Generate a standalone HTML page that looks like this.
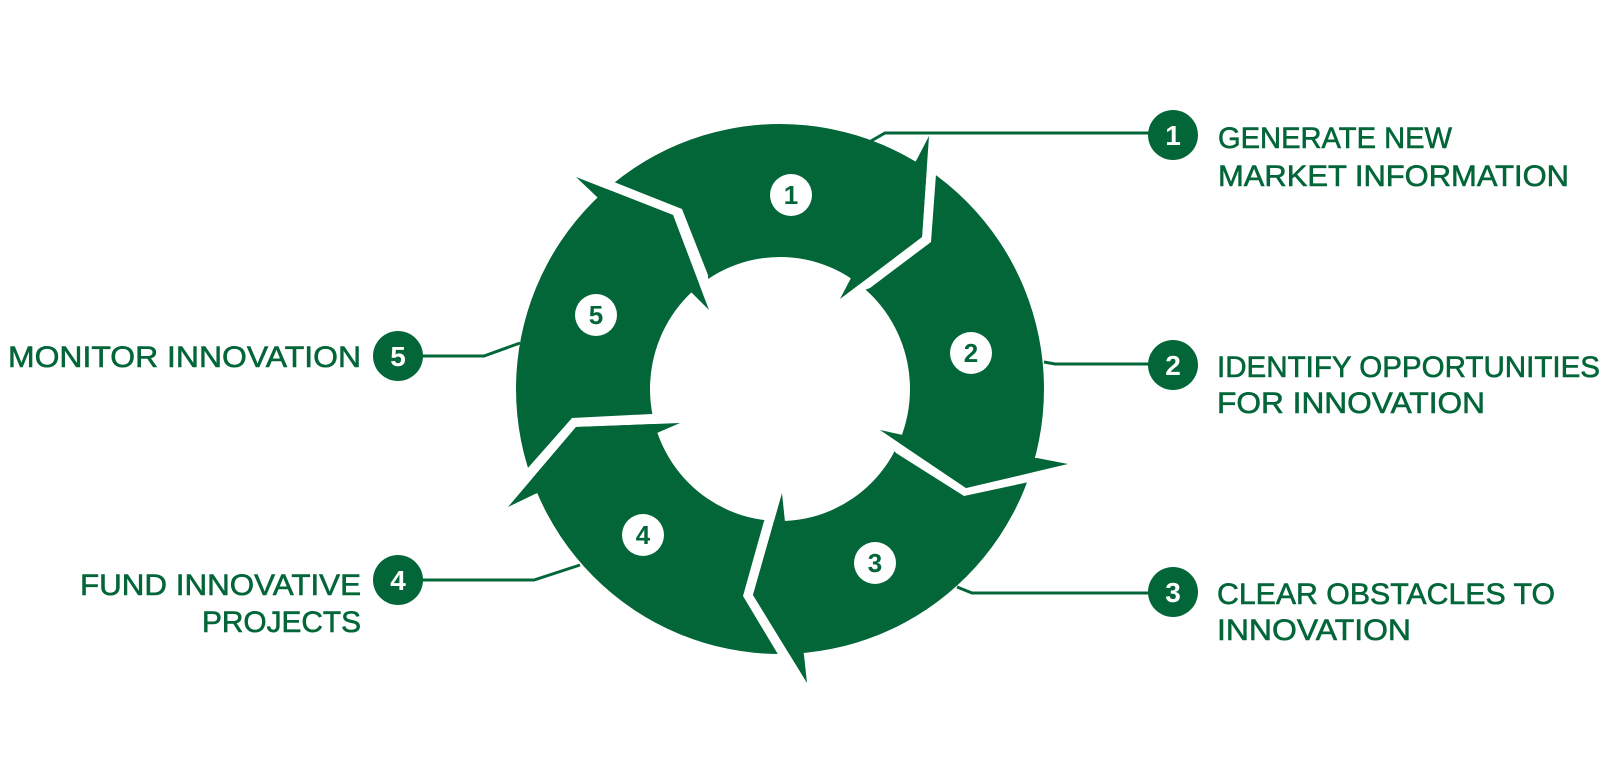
<!DOCTYPE html>
<html><head><meta charset="utf-8"><style>
html,body{margin:0;padding:0;background:#fff;}
svg{display:block;}
text{font-family:"Liberation Sans",sans-serif;}
</style></head><body>
<svg width="1618" height="761" viewBox="0 0 1618 761" xmlns="http://www.w3.org/2000/svg">
<g fill="#036639">
<path fill-rule="evenodd" d="M516,389 a264,265 0 1,0 528,0 a264,265 0 1,0 -528,0 Z M650,389 a130,132 0 1,0 260,0 a130,132 0 1,0 -260,0 Z"/>
</g>
<!-- gaps -->
<g fill="#fff">
<polygon points="576,177 673,215 709,310 708,275 682,209 614,182 590,165"/>
<polygon points="929,136 922,237 840,299 870,288 931,242 936,174 945,130"/>
<polygon points="1068,464 966,488 880,430 896,453 964,496 1029,482 1075,478"/>
<polygon points="807,683 753,595 782,493 764,521 743,596 779,656 790,695"/>
<polygon points="508,507 576,427 680,423 652,414 572,418 527,469 495,500"/>
</g>
<!-- arrow heads -->
<g fill="#036639">
<polygon points="576,177 673,215 709,310 689,290 660,260 610,210 596,196"/>
<polygon points="929,136 922,237 840,299 852,276 880,240 900,180 916,161"/>
<polygon points="1068,464 966,488 880,430 903,435 960,460 1037,458"/>
<polygon points="807,683 753,595 782,493 785,522 790,580 804,655"/>
<polygon points="508,507 576,427 680,423 657,433 600,455 560,485 535,494"/>
</g>
<!-- connectors -->
<g fill="none" stroke="#036639" stroke-width="3">
<polyline points="871,141 885,133 1173,133"/>
<polyline points="1044,362 1055,364 1173,364"/>
<polyline points="957,587 972,593 1173,593"/>
<polyline points="580,565 534,580 400,580"/>
<polyline points="520,343 484,356 400,356"/>
</g>
<!-- inner number circles -->
<g fill="#fff">
<circle cx="791" cy="195" r="21"/>
<circle cx="971" cy="353" r="21"/>
<circle cx="875" cy="563" r="21"/>
<circle cx="643" cy="535" r="21"/>
<circle cx="596" cy="315" r="21"/>
</g>
<g fill="#036639" font-size="26" font-weight="bold" text-anchor="middle">
<text x="791" y="204">1</text>
<text x="971" y="362">2</text>
<text x="875" y="572">3</text>
<text x="643" y="544">4</text>
<text x="596" y="324">5</text>
</g>
<!-- outer number circles -->
<g fill="#036639">
<circle cx="1173" cy="135" r="25"/>
<circle cx="1173" cy="365" r="25"/>
<circle cx="1173" cy="592" r="25"/>
<circle cx="398" cy="580" r="25"/>
<circle cx="398" cy="356" r="25"/>
</g>
<g fill="#fff" font-size="28" font-weight="bold" text-anchor="middle">
<text x="1173" y="145">1</text>
<text x="1173" y="375">2</text>
<text x="1173" y="602">3</text>
<text x="398" y="590">4</text>
<text x="398" y="366">5</text>
</g>
<!-- labels -->
<g fill="#036639" stroke="#036639" stroke-width="0.6" font-size="30">
<text x="1218" y="148" textLength="234" lengthAdjust="spacingAndGlyphs">GENERATE NEW</text>
<text x="1218" y="186" textLength="351" lengthAdjust="spacingAndGlyphs">MARKET INFORMATION</text>
<text x="1217" y="377" textLength="383" lengthAdjust="spacingAndGlyphs">IDENTIFY OPPORTUNITIES</text>
<text x="1217" y="413" textLength="268" lengthAdjust="spacingAndGlyphs">FOR INNOVATION</text>
<text x="1217" y="604" textLength="338" lengthAdjust="spacingAndGlyphs">CLEAR OBSTACLES TO</text>
<text x="1217" y="640" textLength="194" lengthAdjust="spacingAndGlyphs">INNOVATION</text>
<text x="8" y="367" textLength="353" lengthAdjust="spacingAndGlyphs">MONITOR INNOVATION</text>
<text x="80" y="595" textLength="281" lengthAdjust="spacingAndGlyphs">FUND INNOVATIVE</text>
<text x="202" y="632" textLength="159" lengthAdjust="spacingAndGlyphs">PROJECTS</text>
</g>
</svg>
</body></html>
